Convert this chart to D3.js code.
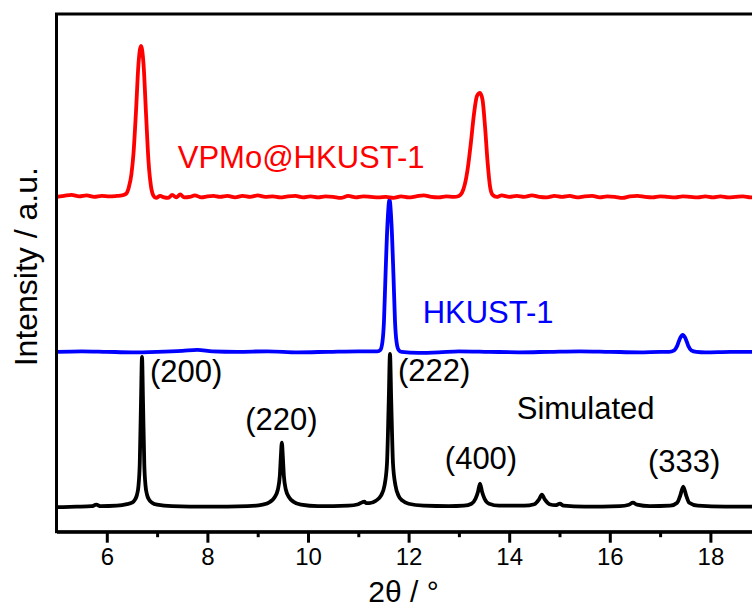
<!DOCTYPE html>
<html>
<head>
<meta charset="utf-8">
<script src="https://cdn.jsdelivr.net/npm/d3@7"></script>
<style>
  body { margin: 0; background: #fff; }
  svg { display: block; font-family: "Liberation Sans", Arial, sans-serif; }
</style>
</head>
<body>
<div id="chart"></div>
<script>
// 2theta (deg) vs intensity (a.u., curves already stacked)
const simulated = [
  [5.00,24.5],[5.40,25],[5.70,25.5],[5.79,27],[5.88,25.5],[6.20,26],[6.40,27.5],[6.50,29],[6.56,32],[6.60,37],
  [6.63,46],[6.655,68],[6.68,130],[6.70,175],[6.72,130],[6.745,68],[6.77,46],[6.80,37],[6.84,32],[6.90,29],
  [7.00,27],[7.30,25.5],[8.00,25],[8.80,25.5],[9.10,27],[9.25,30],[9.33,34],[9.40,42],[9.44,56],[9.46,75],
  [9.48,89],[9.50,75],[9.52,56],[9.56,42],[9.63,34],[9.71,30],[9.86,27],[10.20,25.5],[10.80,26],[11.00,27.5],
  [11.08,29.5],[11.12,30],[11.16,28.5],[11.22,28.5],[11.35,31],[11.45,36],[11.52,46],[11.57,68],[11.605,130],[11.63,178],
  [11.655,130],[11.69,68],[11.74,46],[11.80,36],[11.88,31],[12.00,28],[12.30,26],[12.80,25.5],[13.10,26],[13.25,28],
  [13.33,33],[13.38,40],[13.42,48],[13.46,40],[13.51,33],[13.60,28],[13.80,26],[14.30,26],[14.50,27.5],[14.59,32],
  [14.65,37],[14.71,32],[14.80,27.5],[14.92,26.5],[15.01,28],[15.08,26],[15.50,25],[16.20,25.5],[16.38,27],[16.46,29],
  [16.54,27],[16.80,25.5],[17.20,26],[17.34,29],[17.40,36],[17.46,45],[17.52,36],[17.58,29],[17.75,26],[18.30,25],
  [19.00,25]
];

const hkust = [
  [5.00,180],[5.50,180.5],[6.00,180],[6.50,179.5],[7.00,180],[7.50,181],[7.80,182],[8.10,180.5],[8.60,180],[9.20,180.5],
  [9.80,179.5],[10.40,180],[11.00,180.5],[11.38,180.5],[11.44,182],[11.48,190],[11.51,210],[11.54,255],[11.58,308],[11.62,332],
  [11.66,308],[11.70,255],[11.73,210],[11.76,190],[11.80,182],[11.86,180],[12.20,179],[12.60,179.5],[13.00,180.5],[13.60,180],
  [14.20,179.5],[14.80,180],[15.40,180.5],[16.00,180],[16.60,179.5],[17.00,180],[17.18,180],[17.28,181.5],[17.34,186],[17.40,194],
  [17.45,197],[17.50,194],[17.56,186],[17.62,181.5],[17.72,180],[17.90,179.5],[18.40,180],[19.00,180]
];

const vpmo = [
  [5.00,335],[5.15,336],[5.30,337],[5.45,335.5],[5.60,336.5],[5.75,335],[5.90,336],[6.05,335.5],[6.20,336],[6.30,336.5],
  [6.38,338],[6.44,345],[6.49,358],[6.53,378],[6.58,420],[6.63,468],[6.68,486],[6.73,468],[6.78,418],[6.83,370],
  [6.88,345],[6.93,336],[6.98,334],[7.06,336],[7.14,334.5],[7.22,334],[7.30,337],[7.38,334.5],[7.46,337.5],[7.54,334.5],
  [7.65,335],[7.75,336.5],[7.88,334.5],[8.00,335.5],[8.12,336],[8.25,335],[8.40,336],[8.55,334.5],[8.70,336],[8.85,335],
  [9.00,336.5],[9.15,335],[9.30,335.5],[9.45,334.5],[9.60,335.5],[9.75,336],[9.90,334.5],[10.05,335.5],[10.20,334.5],[10.35,335.5],
  [10.50,335],[10.65,334],[10.80,336],[10.95,334.5],[11.10,335.5],[11.25,335],[11.40,334.5],[11.55,335],[11.70,334],[11.85,335.5],
  [12.00,334.5],[12.15,335.5],[12.30,336.5],[12.45,335],[12.60,334.5],[12.75,335.5],[12.90,335],[13.00,336],[13.06,339],[13.12,348],
  [13.18,365],[13.24,390],[13.30,418],[13.36,436],[13.42,439],[13.47,432],[13.52,405],[13.57,370],[13.62,345],[13.67,337],
  [13.75,335],[13.85,336.5],[14.00,335],[14.15,336],[14.30,335],[14.45,336.5],[14.60,335],[14.75,334.5],[14.90,336],[15.05,335],
  [15.20,336],[15.35,334.5],[15.50,335.5],[15.65,336],[15.80,334.5],[15.95,335.5],[16.10,335],[16.25,334],[16.40,335.5],[16.55,336],
  [16.70,335],[16.85,334.5],[17.00,335.5],[17.15,335],[17.30,334.5],[17.45,335.5],[17.60,335],[17.75,334.5],[17.90,335.5],[18.05,334.5],
  [18.20,335.5],[18.35,334.5],[18.50,335],[18.65,335.5],[18.80,334.5],[19.00,335]
];

const series = [
  { name: "Simulated", color: "#000000", data: simulated },
  { name: "HKUST-1", color: "#0000ff", data: hkust },
  { name: "VPMo@HKUST-1", color: "#ff0000", data: vpmo }
];

// curve labels: text, x (2theta), y (a.u.)
const curveLabels = [
  { text: "VPMo@HKUST-1", x: 7.41, y: 364, color: "#ff0000" },
  { text: "HKUST-1", x: 12.28, y: 209, color: "#0000ff" },
  { text: "Simulated", x: 14.15, y: 113, color: "#000000" }
];

const peakLabels = [
  { text: "(200)", x: 6.86, y: 150 },
  { text: "(220)", x: 8.75, y: 102 },
  { text: "(222)", x: 11.79, y: 151 },
  { text: "(400)", x: 12.72, y: 63 },
  { text: "(333)", x: 16.76, y: 60 }
];

const majorTicks = [6, 8, 10, 12, 14, 16, 18];
const minorTicks = [7, 9, 11, 13, 15, 17];

const W = 752, H = 610;
const margin = { top: 14, left: 56.5, bottom: 78.3 };
const plotW = 704.2; // runs past the right edge, as in the cropped original
const plotH = H - margin.top - margin.bottom;

const svg = d3.select("#chart").append("svg")
  .attr("width", W)
  .attr("height", H);

const g = svg.append("g")
  .attr("transform", "translate(" + margin.left + "," + margin.top + ")");

const x = d3.scaleLinear().domain([5, 19]).range([0, plotW]);
const y = d3.scaleLinear().domain([0, 518]).range([plotH, 0]);

const line = d3.line()
  .x(d => x(d[0]))
  .y(d => y(d[1]))
  .curve(d3.curveMonotoneX);

g.selectAll("path.trace")
  .data(series)
  .enter().append("path")
  .attr("class", "trace")
  .attr("fill", "none")
  .attr("stroke", d => d.color)
  .attr("stroke-width", 3.8)
  .attr("stroke-linejoin", "round")
  .attr("d", d => line(d.data));

// frame
g.append("rect")
  .attr("x", 0).attr("y", 0)
  .attr("width", plotW).attr("height", plotH)
  .attr("fill", "none")
  .attr("stroke", "#000")
  .attr("stroke-width", 3);

// x axis, major + minor ticks
const xAxis = g.append("g")
  .attr("transform", "translate(0," + plotH + ")")
  .call(d3.axisBottom(x).tickValues(majorTicks).tickSize(11).tickSizeOuter(0).tickPadding(5));

xAxis.select(".domain").attr("stroke-width", 3);
xAxis.selectAll(".tick line").attr("stroke-width", 3);
xAxis.selectAll(".tick text")
  .attr("font-size", 24)
  .attr("font-family", "Liberation Sans, Arial, sans-serif")
  .attr("fill", "#000");

const xMinor = g.append("g")
  .attr("transform", "translate(0," + plotH + ")")
  .call(d3.axisBottom(x).tickValues(minorTicks).tickSize(5.5).tickSizeOuter(0).tickFormat(""));
xMinor.select(".domain").remove();
xMinor.selectAll(".tick line").attr("stroke-width", 3);

// axis titles
svg.append("text")
  .attr("x", 403.5)
  .attr("y", 602)
  .attr("text-anchor", "middle")
  .attr("font-size", 30)
  .text("2\u03B8 / \u00B0");

svg.append("text")
  .attr("transform", "translate(36.5,266.7) rotate(-90)")
  .attr("text-anchor", "middle")
  .attr("font-size", 32)
  .text("Intensity / a.u.");

// labels
g.selectAll("text.curve")
  .data(curveLabels)
  .enter().append("text")
  .attr("class", "curve")
  .attr("x", d => x(d.x))
  .attr("y", d => y(d.y))
  .attr("fill", d => d.color)
  .attr("font-size", 31)
  .text(d => d.text);

g.selectAll("text.peak")
  .data(peakLabels)
  .enter().append("text")
  .attr("class", "peak")
  .attr("x", d => x(d.x))
  .attr("y", d => y(d.y))
  .attr("fill", "#000")
  .attr("font-size", 31)
  .text(d => d.text);
</script>
</body>
</html>
